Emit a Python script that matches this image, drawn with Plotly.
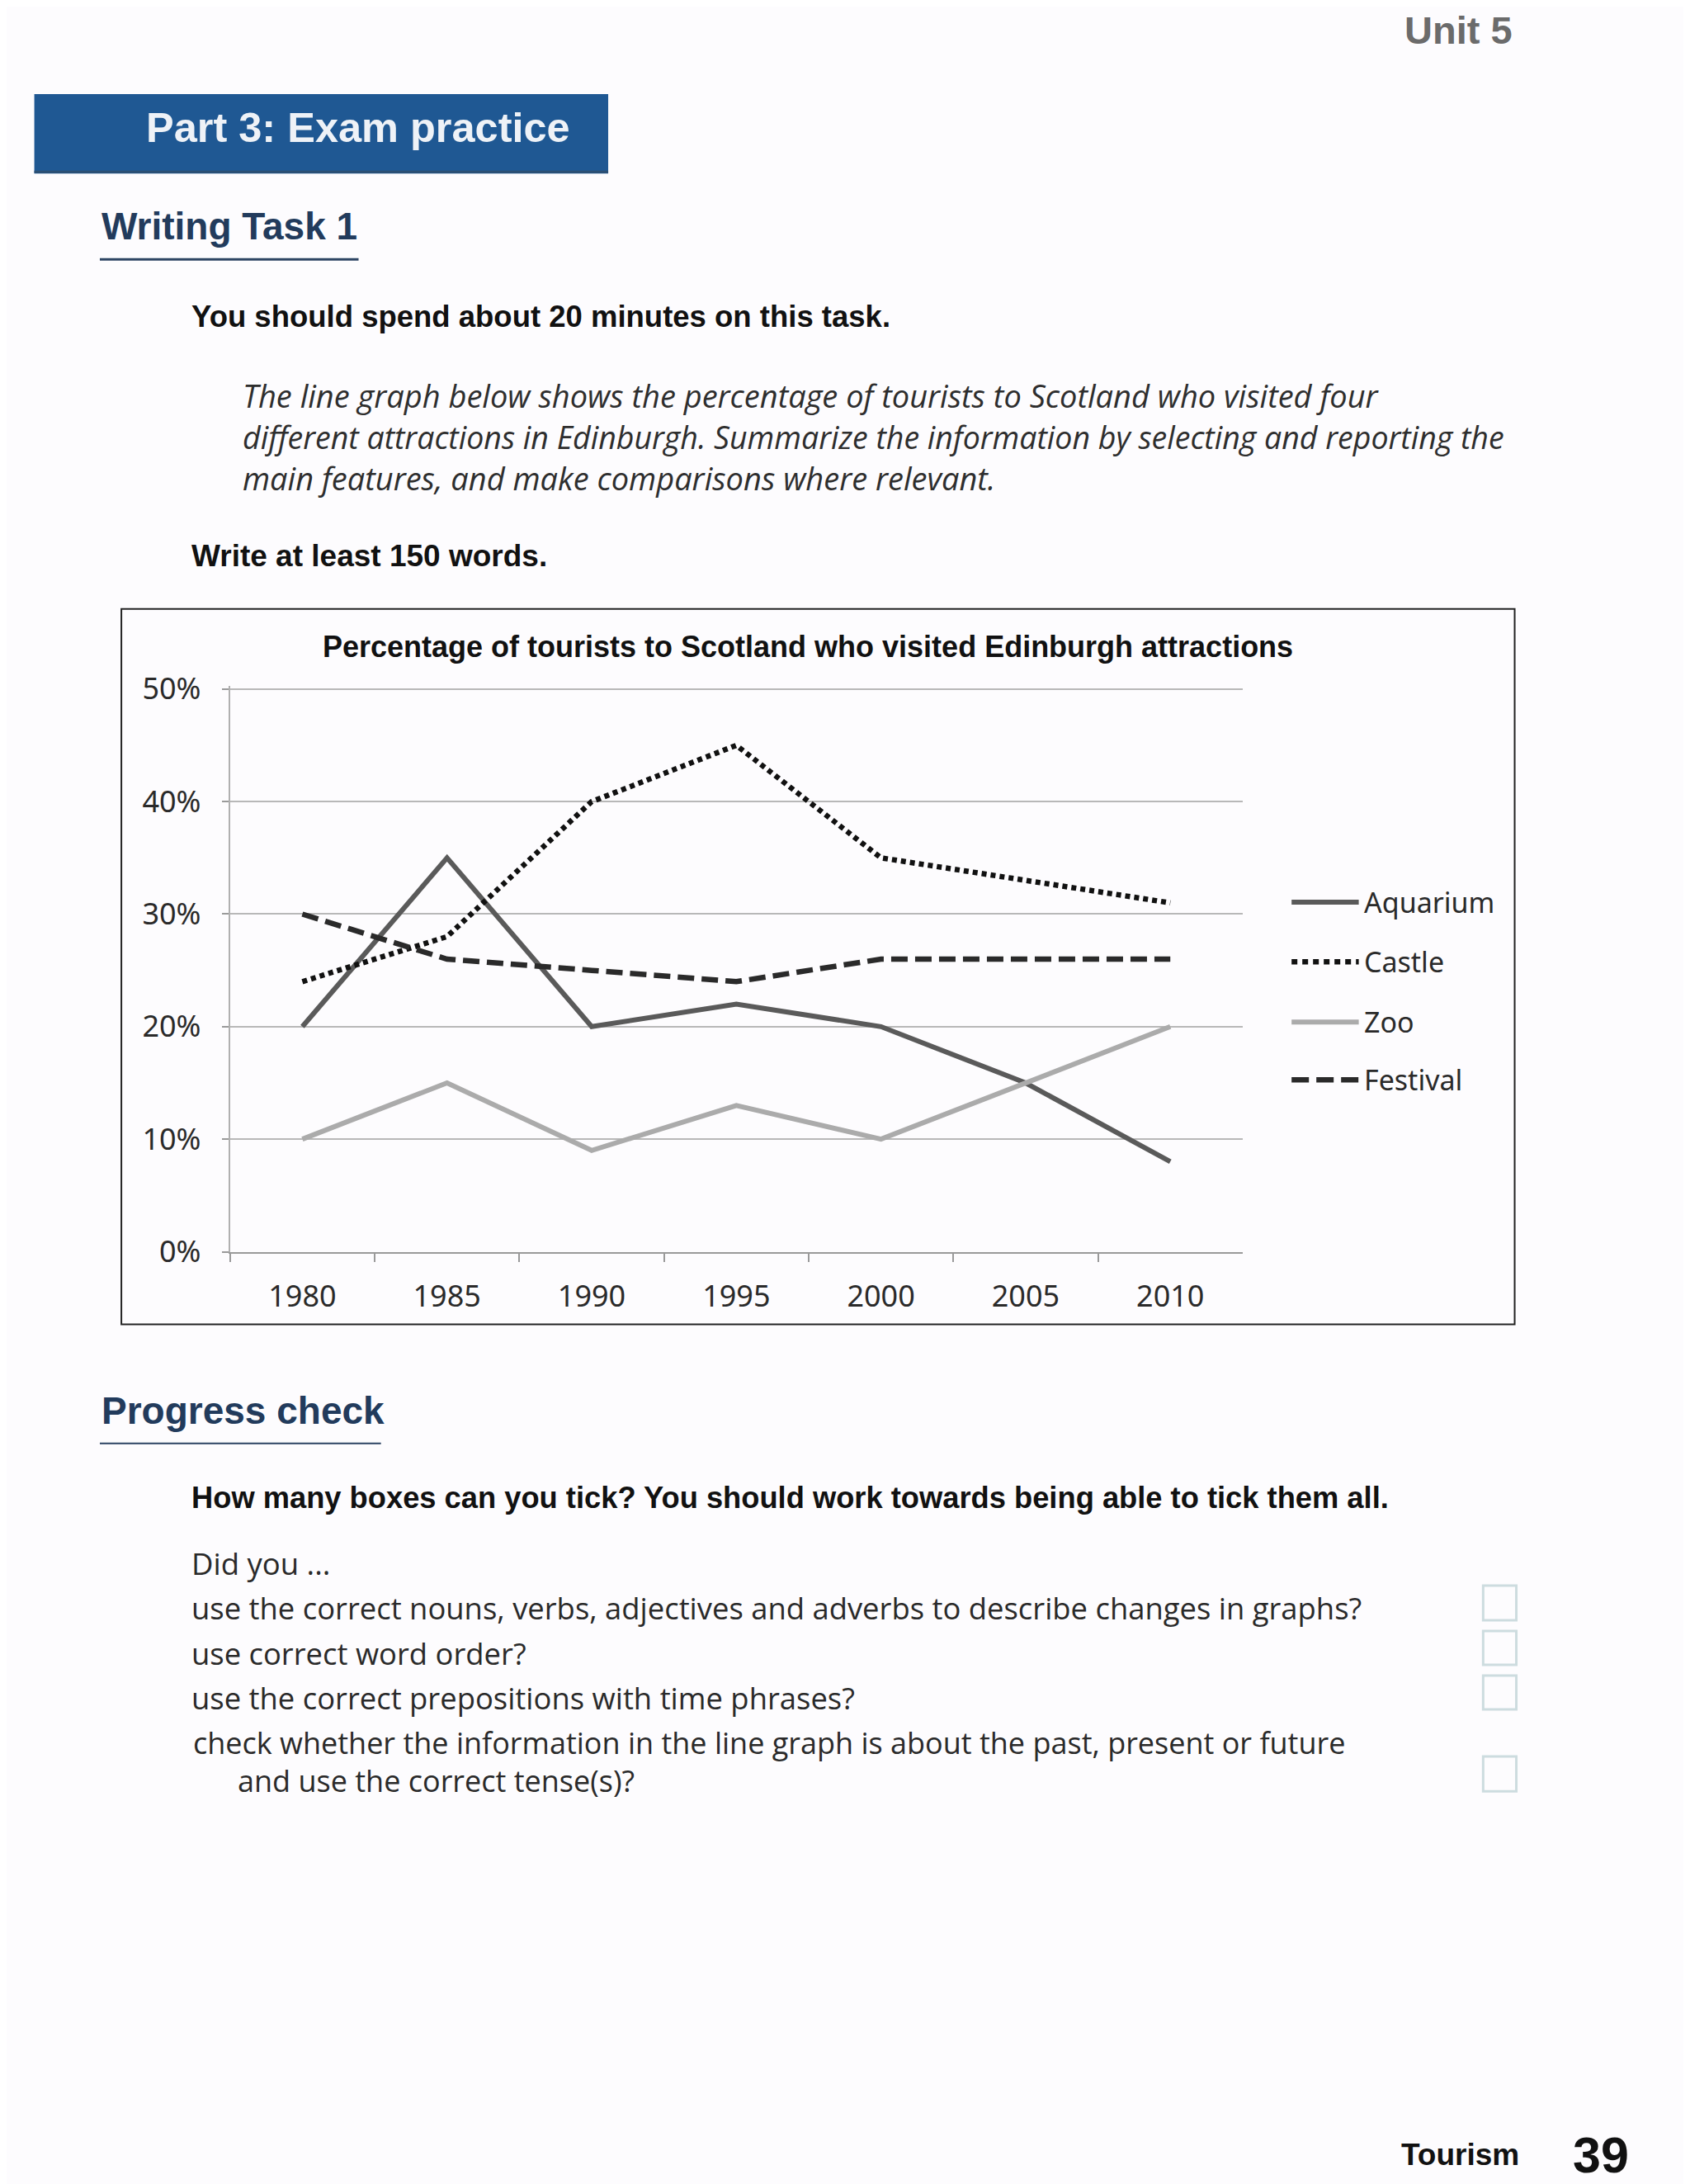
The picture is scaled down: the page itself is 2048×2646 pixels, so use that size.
import plotly.graph_objects as go

W, H = 2048, 2646

years = ["1980", "1985", "1990", "1995", "2000", "2005", "2010"]
aquarium = [20, 35, 20, 22, 20, 15, 8]
castle = [24, 28, 40, 45, 35, 33, 31]
zoo = [10, 15, 9, 13, 10, 15, 20]
festival = [30, 26, 25, 24, 26, 26, 26]
y_ticks = [0, 10, 20, 30, 40, 50]
y_tick_labels = ["0%", "10%", "20%", "30%", "40%", "50%"]

series_names = ["Aquarium", "Castle", "Zoo", "Festival"]
series_values = [aquarium, castle, zoo, festival]
series_colors = ["#5a5a5a", "#111111", "#ababab", "#2a2a2a"]
series_dash = ["solid", "6px,5px", "solid", "20px,9px"]
series_width = [6, 6.5, 6, 6.5]

# page-to-figure compensation (observed rendering offset/scale)
SX, OX = 0.995, 8.6
SY, OY = 0.982, 30.0


def px(x):
    return (x - OX) / SX / W


def py(y):
    return 1 - (y - OY) / SY / H


fig = go.Figure()
for name, vals, col, dash, lw in zip(series_names, series_values, series_colors, series_dash, series_width):
    fig.add_trace(go.Scatter(
        x=years, y=vals, mode="lines", name=name,
        line=dict(color=col, width=lw, dash=dash),
        showlegend=False, hoverinfo="skip",
    ))

shapes = []
annotations = []

# chart frame
shapes.append(dict(type="rect", xref="paper", yref="paper",
                   x0=px(147), x1=px(1827), y0=py(1604), y1=py(738),
                   line=dict(color="#222222", width=2), layer="below"))

# banner
shapes.append(dict(type="rect", xref="paper", yref="paper",
                   x0=px(42), x1=px(734), y0=py(211), y1=py(115),
                   fillcolor="#1f5893", line=dict(width=0), layer="below"))
shapes.append(dict(type="line", xref="paper", yref="paper",
                   x0=px(42), x1=px(734), y0=py(209), y1=py(209),
                   line=dict(color="#2c4f73", width=3)))

# heading underlines
shapes.append(dict(type="line", xref="paper", yref="paper",
                   x0=px(121), x1=px(433), y0=py(315), y1=py(315),
                   line=dict(color="#2b4362", width=3)))
shapes.append(dict(type="line", xref="paper", yref="paper",
                   x0=px(121), x1=px(460), y0=py(1748), y1=py(1748),
                   line=dict(color="#2b4362", width=2)))

# checkboxes
for y0, y1 in [(1920, 1962), (1975, 2016), (2029, 2070), (2127, 2169)]:
    shapes.append(dict(type="rect", xref="paper", yref="paper",
                       x0=px(1789), x1=px(1829), y0=py(y1), y1=py(y0),
                       line=dict(color="#cddcdf", width=3)))

# legend (custom)
leg_y = [1093, 1165, 1238, 1308]
for name, col, dash, lw, yy in zip(series_names, series_colors, series_dash, series_width, leg_y):
    ldash = dash
    if name == "Castle":
        ldash = "7px,6px"
    if name == "Festival":
        ldash = "21px,9px"
    shapes.append(dict(type="line", xref="paper", yref="paper",
                       x0=px(1558), x1=px(1639), y0=py(yy), y1=py(yy),
                       line=dict(color=col, width=lw, dash=ldash)))
    annotations.append(dict(text=name, xref="paper", yref="paper",
                            x=px(1643), y=py(yy), xanchor="left", yanchor="middle",
                            showarrow=False,
                            font=dict(family="Noto Sans", size=34, color="#2a2a2a")))


def txt(text, x, y, size, color="#111111", family="Liberation Sans", bold=False,
        italic=False, xanchor="left"):
    t = text
    if bold:
        t = "<b>" + t + "</b>"
    if italic:
        t = "<i>" + t + "</i>"
    annotations.append(dict(text=t, xref="paper", yref="paper", x=px(x), y=py(y),
                            xanchor=xanchor, yanchor="middle", showarrow=False,
                            font=dict(family=family, size=size, color=color)))


body_font = "Open Sans"
body_col = "#2a2a2a"

txt("Unit 5", 1826, 37, 47, color="#6b6b6b", bold=True, xanchor="right")
txt("Part 3: Exam practice", 175, 155, 50.5, color="#eef2f7", bold=True)
txt("Writing Task 1", 121, 275, 46, color="#223b5c", bold=True)
txt("You should spend about 20 minutes on this task.", 229, 384, 36.5, bold=True)
txt("The line graph below shows the percentage of tourists to Scotland who visited four",
    291, 480, 38, color="#2e2e2e", family=body_font, italic=True)
txt("different attractions in Edinburgh. Summarize the information by selecting and reporting the",
    291, 530, 37.5, color="#2e2e2e", family=body_font, italic=True)
txt("main features, and make comparisons where relevant.",
    291, 579, 38, color="#2e2e2e", family=body_font, italic=True)
txt("Write at least 150 words.", 229, 674, 37, bold=True)

txt("Percentage of tourists to Scotland who visited Edinburgh attractions", 975, 784, 36,
    bold=True, xanchor="center")

txt("Progress check", 121, 1708, 46, color="#223b5c", bold=True)
txt("How many boxes can you tick? You should work towards being able to tick them all.",
    229, 1814, 36.3, bold=True)
txt("Did you ...", 229, 1893, 36.5, color=body_col, family=body_font)
txt("use the correct nouns, verbs, adjectives and adverbs to describe changes in graphs?",
    229, 1947, 36.4, color=body_col, family=body_font)
txt("use correct word order?", 229, 2002, 36.4, color=body_col, family=body_font)
txt("use the correct prepositions with time phrases?", 229, 2056, 36.4, color=body_col, family=body_font)
txt("check whether the information in the line graph is about the past, present or future",
    231, 2110, 36.0, color=body_col, family=body_font)
txt("and use the correct tense(s)?", 285, 2156, 36.0, color=body_col, family=body_font)

txt("Tourism", 1834, 2609, 37, bold=True, xanchor="right")
txt("39", 1967, 2609, 61, bold=True, xanchor="right")

# y axis: 0 at 1516, 50 at 835; small headroom so the 50% gridline is drawn
unit = (1516 - 835) / 50.0
ytop = 50.3
fig.update_layout(
    width=W, height=H,
    margin=dict(l=0, r=0, t=0, b=0),
    paper_bgcolor="#fdfcfe",
    plot_bgcolor="rgba(0,0,0,0)",
    shapes=shapes,
    annotations=annotations,
    xaxis=dict(
        domain=[px(278), px(1499)],
        type="category",
        range=[-0.5, 6.5],
        showgrid=False,
        showline=True, linecolor="#9a9a9a", linewidth=2,
        ticks="outside", tickson="boundaries", ticklen=10, tickcolor="#9a9a9a", tickwidth=2,
        tickfont=dict(family="Noto Sans", size=36, color="#2a2a2a"),
        ticklabelstandoff=21,
        zeroline=False, fixedrange=True,
    ),
    yaxis=dict(
        domain=[py(1516), py(1516 - ytop * unit)],
        range=[0, ytop],
        tickvals=y_ticks, ticktext=y_tick_labels,
        showgrid=True, gridcolor="#b8b8b8", gridwidth=1.5,
        showline=True, linecolor="#b0b0b0", linewidth=2,
        ticks="outside", ticklen=8, tickcolor="#9a9a9a", tickwidth=2,
        tickfont=dict(family="Noto Sans", size=36, color="#2a2a2a"),
        ticklabelstandoff=18,
        zeroline=False, fixedrange=True,
    ),
)

fig.write_html("out.html")
